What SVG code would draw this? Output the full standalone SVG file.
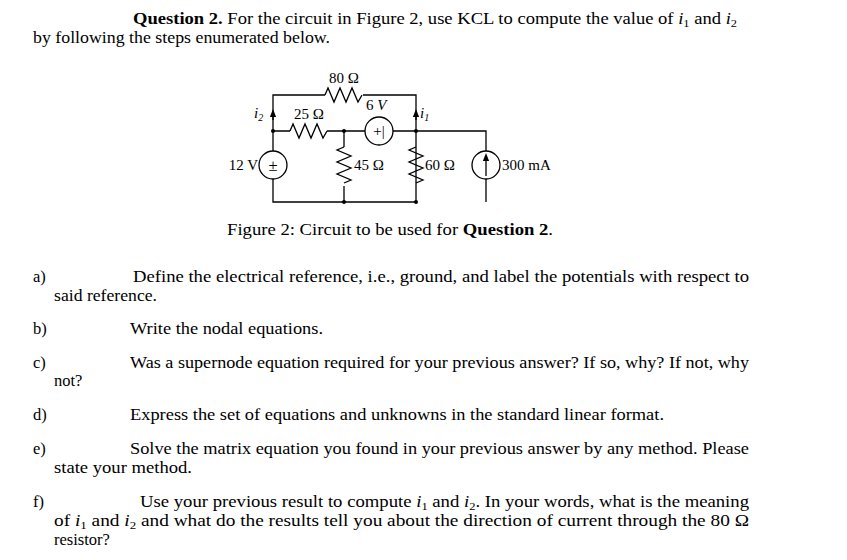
<svg xmlns="http://www.w3.org/2000/svg" width="847" height="560" viewBox="0 0 847 560">
<style>
text{font-family:"Liberation Serif","DejaVu Serif",serif;font-size:16.5px;fill:#000}
.w{fill:none;stroke:#000;stroke-width:1.3}
.c{fill:#fff;stroke:#000;stroke-width:1.3}
.s{font-size:15px}
</style>
<defs><marker id="a" viewBox="0 0 10 10" refX="5" refY="5" markerWidth="6" markerHeight="6" orient="auto"><path d="M0,1L10,5L0,9z"/></marker></defs>
<rect width="847" height="560" fill="#fff"/>
<text x="133" y="24" textLength="604" lengthAdjust="spacingAndGlyphs"><tspan font-weight="bold">Question 2.</tspan> For the circuit in Figure 2, use KCL to compute the value of <tspan font-style="italic">i</tspan><tspan font-size="11" dy="3">1</tspan><tspan dy="-3"> and </tspan><tspan font-style="italic">i</tspan><tspan font-size="11" dy="3">2</tspan></text>
<text x="33" y="43" textLength="297" lengthAdjust="spacingAndGlyphs">by following the steps enumerated below.</text>
<g id="connectors">
<path class="w" d="M273,151V95H325M363,95H416V202H273V179M273,131H290M327,131H365M393,131H486V151M486,179V202M344,131V147M344,186V202"/>
<path class="w" d="M325,95l3,-7l6,14l6,-14l6,14l6,-14l6,14l4,-7"/>
<path class="w" d="M290,131l3,-7l6,14l6,-14l6,14l6,-14l6,14l4,-7"/>
<path class="w" d="M344,147l-7,3l14,6l-14,6l14,6l-14,6l14,6l-7,3"/>
<path class="w" d="M416,147l-7,3l14,6l-14,6l14,6l-14,6l14,6l-7,3"/>
<path class="w" d="M273,120V113" marker-end="url(#a)"/>
<path class="w" d="M416,120V113" marker-end="url(#a)"/>
<g fill="#000"><circle cx="273" cy="131" r="2"/><circle cx="344" cy="131" r="2"/><circle cx="416" cy="131" r="2"/><circle cx="344" cy="202" r="2"/><circle cx="416" cy="202" r="2"/></g>
</g>
<g id="V12"><circle class="c" cx="273" cy="165" r="14"/><text x="273" y="171" text-anchor="middle">±</text><text x="258" y="170" text-anchor="end" class="s">12 V</text></g>
<g id="V6"><circle class="c" cx="379" cy="131" r="14"/><text x="379" y="136" text-anchor="middle" class="s">+|</text><text x="366" y="110" class="s">6 <tspan font-style="italic">V</tspan></text></g>
<g id="I300"><circle class="c" cx="486" cy="165" r="14"/><path class="w" d="M486,176V157" marker-end="url(#a)"/><text x="502" y="170" class="s">300 mA</text></g>
<g id="R80"><text x="344" y="83" text-anchor="middle" class="s">80 Ω</text></g>
<g id="R25"><text x="309" y="119" text-anchor="middle" class="s">25 Ω</text></g>
<g id="R45"><text x="354" y="170" class="s">45 Ω</text></g>
<g id="R60"><text x="425" y="170" class="s">60 Ω</text></g>
<text x="254" y="118" class="s" font-style="italic">i<tspan font-size="10" dy="3">2</tspan></text>
<text x="420" y="118" class="s" font-style="italic">i<tspan font-size="10" dy="3">1</tspan></text>
<text x="227" y="235" textLength="326" lengthAdjust="spacingAndGlyphs">Figure 2: Circuit to be used for <tspan font-weight="bold">Question 2</tspan>.</text>
<text x="33" y="282">a)</text><text x="133" y="282" textLength="616" lengthAdjust="spacingAndGlyphs">Define the electrical reference, i.e., ground, and label the potentials with respect to</text>
<text x="54" y="301" textLength="103" lengthAdjust="spacingAndGlyphs">said reference.</text>
<text x="33" y="334">b)</text><text x="130" y="334" textLength="193" lengthAdjust="spacingAndGlyphs">Write the nodal equations.</text>
<text x="33" y="368">c)</text><text x="130" y="368" textLength="619" lengthAdjust="spacingAndGlyphs">Was a supernode equation required for your previous answer? If so, why? If not, why</text>
<text x="54" y="386">not?</text>
<text x="33" y="420">d)</text><text x="130" y="420" textLength="534" lengthAdjust="spacingAndGlyphs">Express the set of equations and unknowns in the standard linear format.</text>
<text x="33" y="454">e)</text><text x="130" y="454" textLength="619" lengthAdjust="spacingAndGlyphs">Solve the matrix equation you found in your previous answer by any method. Please</text>
<text x="54" y="473" textLength="138" lengthAdjust="spacingAndGlyphs">state your method.</text>
<text x="33" y="507">f)</text><text x="140" y="507" textLength="609" lengthAdjust="spacingAndGlyphs">Use your previous result to compute <tspan font-style="italic">i</tspan><tspan font-size="11" dy="3">1</tspan><tspan dy="-3"> and </tspan><tspan font-style="italic">i</tspan><tspan font-size="11" dy="3">2</tspan><tspan dy="-3">. In your words, what is the meaning</tspan></text>
<text x="54" y="526" textLength="695" lengthAdjust="spacingAndGlyphs">of <tspan font-style="italic">i</tspan><tspan font-size="11" dy="3">1</tspan><tspan dy="-3"> and </tspan><tspan font-style="italic">i</tspan><tspan font-size="11" dy="3">2</tspan><tspan dy="-3"> and what do the results tell you about the direction of current through the 80 Ω</tspan></text>
<text x="54" y="545">resistor?</text>
</svg>
